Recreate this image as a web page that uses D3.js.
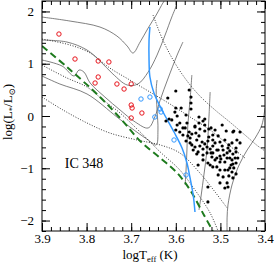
<!DOCTYPE html>
<html>
<head>
<meta charset="utf-8">
<script src="https://cdn.jsdelivr.net/npm/d3@7"></script>
<style>
  body { margin: 0; background: #fff; }
  text { font-family: "Liberation Serif", "DejaVu Serif", serif; }
</style>
</head>
<body>
<div id="canvas"></div>
<script>
// HR diagram, IC 348 -- points are [logTeff, logL]
let xTicks = [3.9, 3.8, 3.7, 3.6, 3.5, 3.4];
let yTicks = [-2, -1, 0, 1, 2];

// evolutionary tracks (solid gray)
let trackA = [[3.900,1.893],[3.837,1.816],[3.770,1.702],[3.732,1.530],[3.709,1.338],[3.696,1.205],[3.680,1.415],[3.662,1.683],[3.644,1.931],[3.629,2.161],[3.622,2.25]];
let trackB = [[3.900,1.453],[3.844,1.415],[3.799,1.262],[3.770,1.052],[3.741,0.803],[3.709,0.593],[3.685,0.612],[3.662,0.841],[3.642,1.166],[3.624,1.549],[3.609,1.893],[3.598,2.12]];
let trackC = [[3.900,1.071],[3.855,0.956],[3.828,0.765],[3.817,0.880],[3.806,0.841],[3.792,0.631],[3.759,0.363],[3.725,0.115],[3.691,-0.115],[3.662,-0.229],[3.647,-0.019],[3.635,0.306],[3.617,0.727],[3.597,1.166],[3.584,1.415]];
let trackD = [[3.900,0.765],[3.860,0.612],[3.799,0.421],[3.732,-0.019],[3.703,-0.210],[3.662,-0.459],[3.644,-0.554],[3.640,-0.268],[3.642,0.115],[3.644,0.497],[3.642,0.688]];
let trackE = [[3.564,0.784],[3.568,0.306],[3.573,-0.172],[3.575,-0.650],[3.577,-1.033],[3.579,-1.319]];
let trackF = [[3.523,0.459],[3.526,-0.076],[3.530,-0.650],[3.537,-1.128],[3.543,-1.511],[3.548,-1.797]];
let trackG = [[3.400,0.153],[3.407,-0.172],[3.422,-0.421],[3.440,-0.650],[3.461,-0.994],[3.474,-1.319],[3.483,-1.702],[3.485,-1.950],[3.485,-2.25]];

// isochrones (dotted)
let iso0 = [[3.651,1.931],[3.629,1.453],[3.602,1.013],[3.573,0.650],[3.546,0.382],[3.512,0.115],[3.479,-0.115],[3.445,-0.363],[3.416,-0.574],[3.400,-0.669]];
let iso1 = [[3.900,1.472],[3.837,1.358],[3.792,1.205],[3.748,0.918],[3.703,0.688],[3.658,0.459],[3.613,0.229],[3.568,-0.019],[3.523,-0.268],[3.490,-0.497],[3.445,-0.803]];
let iso2 = [[3.900,0.975],[3.844,0.727],[3.799,0.554],[3.763,0.306],[3.725,0.057],[3.680,-0.306],[3.635,-0.688],[3.591,-1.033],[3.557,-1.415],[3.523,-1.855],[3.503,-2.25]];
let iso3 = [[3.900,0.363],[3.853,0.115],[3.799,-0.134],[3.748,-0.325],[3.687,-0.459],[3.635,-0.554],[3.591,-0.708],[3.546,-1.090],[3.512,-1.453],[3.485,-1.759]];

// green dashed line
let zams = [[3.900,1.338],[3.844,0.937],[3.770,0.363],[3.721,-0.076],[3.680,-0.478],[3.635,-0.803],[3.597,-1.090],[3.568,-1.415],[3.537,-1.893],[3.517,-2.2]];

// blue track and blue stars
let blueTrack = [[3.658,1.702],[3.660,1.453],[3.660,1.071],[3.658,0.746],[3.649,0.440],[3.631,0.115],[3.604,-0.306],[3.586,-0.612],[3.575,-0.899],[3.568,-1.185],[3.561,-1.511],[3.557,-1.836]];
let blueStars = [[3.678,0.325],[3.658,0.363],[3.635,0.134],[3.633,0.076],[3.647,-0.019],[3.604,-0.459],[3.577,-1.128]];

// red open circles
let redStars = [[3.862,1.568],[3.826,1.090],[3.774,1.052],[3.750,1.033],[3.774,0.746],[3.781,0.631],[3.732,0.612],[3.716,0.516],[3.700,0.612],[3.700,0.210],[3.698,0.153],[3.700,-0.038],[3.676,0.057]];

// black filled dots
let blackStars = [
  [3.600,0.478],[3.570,0.497],[3.618,0.344],[3.566,0.363],[3.566,0.249],[3.566,0.134],[3.600,0.153],[3.602,0.076],
  [3.597,0.000],[3.615,-0.057],[3.609,-0.076],[3.622,-0.096],[3.535,-0.057],[3.597,-0.172],[3.548,-0.134],[3.575,-0.134],
  [3.557,-0.210],[3.526,-0.249],[3.535,-0.287],[3.600,-0.268],[3.470,-0.287],[3.570,-0.306],[3.591,-0.134],[3.564,-0.344],
  [3.573,-0.382],[3.548,-0.019],[3.539,-0.096],[3.535,-0.172],[3.557,-0.191],[3.584,-0.229],[3.521,-0.229],[3.517,-0.363],
  [3.472,-0.306],[3.463,-0.459],[3.456,-0.516],[3.548,-0.382],[3.553,-0.459],[3.541,-0.497],[3.535,-0.535],[3.530,-0.593],
  [3.523,-0.631],[3.512,-0.516],[3.501,-0.497],[3.496,-0.574],[3.505,-0.650],[3.564,-0.554],[3.561,-0.650],[3.550,-0.688],
  [3.539,-0.746],[3.517,-0.707],[3.512,-0.841],[3.494,-0.650],[3.485,-0.707],[3.479,-0.669],[3.472,-0.727],[3.485,-0.803],
  [3.474,-0.841],[3.472,-0.918],[3.479,-0.994],[3.523,-0.937],[3.508,-0.975],[3.501,-0.880],[3.553,-0.727],[3.530,-0.707],
  [3.519,-0.784],[3.508,-0.803],[3.501,-0.765],[3.490,-0.880],[3.483,-1.033],[3.467,-0.803],[3.474,-1.071],[3.472,-1.185],
  [3.485,-1.281],[3.483,-1.358],[3.490,-1.377],[3.501,-1.281],[3.494,-1.166],[3.505,-1.128],[3.501,-1.033],[3.517,-0.975],
  [3.528,-0.899],[3.539,-0.841],[3.550,-0.937],[3.528,-1.358],[3.528,-1.644],[3.568,-0.516],[3.557,-0.593],[3.568,-0.421],
  [3.584,-0.363],[3.579,-0.229],[3.577,0.019],[3.588,0.153],[3.517,-0.459],[3.505,-0.382],[3.490,-0.459],[3.481,-0.554],
  [3.465,-0.612],[3.465,-0.688],[3.461,-0.803],[3.496,-0.172],[3.487,-0.287],[3.512,-0.268],[3.546,-0.574],[3.539,-0.631],
  [3.526,-0.402],[3.492,-0.746],[3.476,-0.937],[3.470,-0.994],[3.465,-1.109],[3.490,-1.033],[3.481,-1.147],[3.508,-0.650],
  [3.456,-0.306],[3.546,-0.249],[3.555,-0.325],[3.577,-0.478],[3.591,-0.306],[3.521,-0.707],[3.499,-0.822],[3.465,-0.899],
  [3.479,-0.803],[3.517,-0.574],[3.528,-0.478],[3.474,-0.516],[3.483,-0.612]
];

let width = 274;
let height = 266;
let margin = {left: 42, right: 9, top: 1, bottom: 35};

let svg = d3.select("#canvas")
    .append("svg")
    .attr("width", width)
    .attr("height", height);

const x = d3.scaleLinear()
    .domain([3.9, 3.4])
    .range([margin.left, width - margin.right]);

const y = d3.scaleLinear()
    .domain([-2.2, 2.2])
    .range([height - margin.bottom, margin.top]);

svg.append("clipPath").attr("id", "clip")
    .append("rect")
    .attr("x", margin.left).attr("y", margin.top)
    .attr("width", x(3.4) - x(3.9)).attr("height", y(-2.2) - y(2.2));

let plot = svg.append("g").attr("clip-path", "url(#clip)");

let line = d3.line()
    .x(d => x(d[0]))
    .y(d => y(d[1]))
    .curve(d3.curveCatmullRom.alpha(0.5));

// tracks
plot.selectAll(".track")
    .data([trackA, trackB, trackC, trackD, trackE, trackF, trackG])
    .join("path")
    .attr("class", "track")
    .attr("d", line)
    .attr("fill", "none")
    .attr("stroke", "#5f5f5f")
    .attr("stroke-width", 0.8);

// isochrones
plot.selectAll(".iso")
    .data([iso0, iso1, iso2, iso3])
    .join("path")
    .attr("class", "iso")
    .attr("d", line)
    .attr("fill", "none")
    .attr("stroke", "#222")
    .attr("stroke-width", 0.9)
    .attr("stroke-dasharray", "1,1.6");

plot.append("path")
    .attr("d", line(zams))
    .attr("fill", "none")
    .attr("stroke", "#1d7a1d")
    .attr("stroke-width", 2)
    .attr("stroke-dasharray", "7,4");

plot.append("path")
    .attr("d", line(blueTrack))
    .attr("fill", "none")
    .attr("stroke", "#3399ff")
    .attr("stroke-width", 1.5);

plot.selectAll(".black")
    .data(blackStars)
    .join("circle")
    .attr("class", "black")
    .attr("cx", d => x(d[0]))
    .attr("cy", d => y(d[1]))
    .attr("r", 1.6)
    .attr("fill", "#000");

plot.selectAll(".red")
    .data(redStars)
    .join("circle")
    .attr("class", "red")
    .attr("cx", d => x(d[0]))
    .attr("cy", d => y(d[1]))
    .attr("r", 2.2)
    .attr("fill", "none")
    .attr("stroke", "#e8141c")
    .attr("stroke-width", 1);

plot.selectAll(".blue")
    .data(blueStars)
    .join("circle")
    .attr("class", "blue")
    .attr("cx", d => x(d[0]))
    .attr("cy", d => y(d[1]))
    .attr("r", 2.2)
    .attr("fill", "none")
    .attr("stroke", "#3399ff")
    .attr("stroke-width", 1);

// axes, ticks point inward on all four sides
let xMinor = d3.range(3.4, 3.9001, 0.02);
let yMinor = d3.range(-2.2, 2.2001, 0.2);
let yBottom = y(-2.2), yTop = y(2.2), xLeft = x(3.9), xRight = x(3.4);

const styleAxis = g => {
    g.select(".domain").remove();
    g.selectAll("line").attr("stroke", "#000").attr("stroke-width", 1);
    g.selectAll("text")
        .attr("fill", "#000")
        .style("font-family", '"Liberation Serif", serif')
        .style("font-size", "13px");
};

svg.append("g").attr("transform", `translate(0,${yBottom})`)
    .call(d3.axisBottom(x).tickValues(xMinor).tickSize(-4).tickFormat(""))
    .call(styleAxis);
svg.append("g").attr("transform", `translate(0,${yBottom})`)
    .call(d3.axisBottom(x).tickValues(xTicks).tickSize(-8).tickPadding(3).tickFormat(d3.format(".1f")))
    .call(styleAxis);
svg.append("g").attr("transform", `translate(0,${yTop})`)
    .call(d3.axisTop(x).tickValues(xMinor).tickSize(-4).tickFormat(""))
    .call(styleAxis);
svg.append("g").attr("transform", `translate(0,${yTop})`)
    .call(d3.axisTop(x).tickValues(xTicks).tickSize(-8).tickFormat(""))
    .call(styleAxis);

svg.append("g").attr("transform", `translate(${xLeft},0)`)
    .call(d3.axisLeft(y).tickValues(yMinor).tickSize(-4).tickFormat(""))
    .call(styleAxis);
svg.append("g").attr("transform", `translate(${xLeft},0)`)
    .call(d3.axisLeft(y).tickValues(yTicks).tickSize(-8).tickPadding(8).tickFormat(d3.format("d")))
    .call(styleAxis);
svg.append("g").attr("transform", `translate(${xRight},0)`)
    .call(d3.axisRight(y).tickValues(yMinor).tickSize(-4).tickFormat(""))
    .call(styleAxis);
svg.append("g").attr("transform", `translate(${xRight},0)`)
    .call(d3.axisRight(y).tickValues(yTicks).tickSize(-8).tickFormat(""))
    .call(styleAxis);

svg.append("rect")
    .attr("x", xLeft).attr("y", yTop)
    .attr("width", xRight - xLeft).attr("height", yBottom - yTop)
    .attr("fill", "none")
    .attr("stroke", "#000")
    .attr("stroke-width", 1);

// labels
svg.append("text")
    .attr("x", x(3.849)).attr("y", y(-0.99))
    .attr("font-size", 14)
    .text("IC 348");

let xl = svg.append("text")
    .attr("x", 150).attr("y", 259)
    .attr("text-anchor", "middle")
    .attr("font-size", 13);
xl.append("tspan").text("logT");
xl.append("tspan").attr("font-size", 8.5).attr("dy", 3).text("eff");
xl.append("tspan").attr("dy", -3).text(" (K)");

let yl = svg.append("text")
    .attr("transform", "translate(12,112) rotate(-90)")
    .attr("text-anchor", "middle")
    .attr("font-size", 13);
yl.append("tspan").text("log(L");
yl.append("tspan").attr("font-size", 8.5).attr("dy", 3).text("*");
yl.append("tspan").attr("dy", -3).text("/L");
yl.append("tspan").attr("font-size", 8.5).attr("dy", 3).text("⊙");
yl.append("tspan").attr("dy", -3).text(")");
</script>
</body>
</html>
